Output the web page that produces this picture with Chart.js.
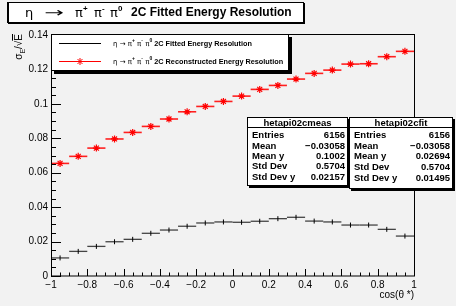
<!DOCTYPE html>
<html>
<head>
<meta charset="utf-8">
<script src="https://cdn.jsdelivr.net/npm/chart.js@4/dist/chart.umd.min.js"></script>
<style>
  body { margin: 0; background: #f2f2f2; }
  #wrap { position: relative; width: 456px; height: 306px; overflow: hidden; font-family: "Liberation Sans", Arial, sans-serif; color: #000; }
  #chart { position: absolute; left: 0; top: 0; }
  .pave { position: absolute; background: #fff; border: 1px solid #000; box-sizing: border-box; }
  #title { left: 7px; top: 2px; width: 297px; height: 21px; border-left-width: 2px; box-shadow: 1px 1px 0 #000; }
  #title span { position: absolute; top: 0; line-height: 19px; white-space: nowrap; }
  #title .g { font-size: 13px; font-family: "DejaVu Sans", sans-serif; }
  #title .sup { font-size: 8px; font-weight: bold; top: -4px; }
  #title .b { font-size: 12px; font-weight: bold; }
  .stats { box-shadow: 2px 2px 0 #000; font-weight: bold; font-size: 9.5px; }
  .stats .hd { position: absolute; left: 0; right: 0; top: 0; height: 9px; border-bottom: 1px solid #000; text-align: center; line-height: 9px; }
  .stats .row { position: absolute; left: 4px; right: 2px; height: 11px; line-height: 11px; white-space: nowrap; }
  .stats .row b { position: absolute; right: 0; top: 0; font-weight: bold; }
  #s1 { left: 247px; top: 117px; width: 101px; height: 69px; }
  #s2 { left: 349px; top: 117px; width: 104px; height: 72px; }
  #ytitle { position: absolute; left: 13px; top: 74px; width: 40px; text-align: right; transform-origin: 0 0; transform: rotate(-90deg); font-size: 10px; line-height: 12px; white-space: nowrap; }
  #ytitle sub { font-size: 7px; }
  #ytitle .ov { text-decoration: overline; }
</style>
</head>
<body>
<div id="wrap">
  <canvas id="chart" width="456" height="306"></canvas>
  <div id="title" class="pave">
    <span class="g" style="left:16px">η</span>
    <span class="g" style="left:35px;transform:scaleX(1.8);transform-origin:0 50%">→</span>
    <span class="g" style="left:66px">π</span><span class="sup" style="left:74px">+</span>
    <span class="g" style="left:85px">π</span><span class="sup" style="left:93px">-</span>
    <span class="g" style="left:101px">π</span><span class="sup" style="left:109px">0</span>
    <span class="b" style="left:122px">2C Fitted Energy Resolution</span>
  </div>
  <div id="ytitle">σ<sub>E</sub>/√<span class="ov">E</span></div>
  <div id="s1" class="pave stats"></div>
  <div id="s2" class="pave stats"></div>
</div>
<script>
// bins in cos(theta*)
const binCenters = [-0.95, -0.85, -0.75, -0.65, -0.55, -0.45, -0.35, -0.25, -0.15, -0.05,
                    0.05, 0.15, 0.25, 0.35, 0.45, 0.55, 0.65, 0.75, 0.85, 0.95];
const binWidth = 0.1;

// reconstructed (red) and 2C fitted (black) resolution
const measRes = [0.0654, 0.0695, 0.0743, 0.0796, 0.0834, 0.0869, 0.0912, 0.0954, 0.0985, 0.1014,
                 0.1045, 0.1084, 0.1107, 0.1144, 0.1177, 0.1196, 0.1231, 0.1233, 0.1274, 0.1305];
const fitRes = [0.0105, 0.0143, 0.0172, 0.0199, 0.0213, 0.0248, 0.0267, 0.0289, 0.0308, 0.0314,
                0.0312, 0.0318, 0.0333, 0.0341, 0.0319, 0.0314, 0.0296, 0.0296, 0.0271, 0.0232];

const xTicks = [-1, -0.8, -0.6, -0.4, -0.2, 0, 0.2, 0.4, 0.6, 0.8, 1];
const yTicks = [0, 0.02, 0.04, 0.06, 0.08, 0.1, 0.12, 0.14];

const legendLabels = ['2C Fitted Energy Resolution', '2C Reconstructed Energy Resolution'];

// stats boxes
const statNames = ['Entries', 'Mean', 'Mean y', 'Std Dev', 'Std Dev y'];
const statsMeas = ['6156', '\u22120.03058', '0.1002', '0.5704', '0.02157'];
const statsFit = ['6156', '\u22120.03058', '0.02694', '0.5704', '0.01495'];

function fillStats(id, name, vals, rowTops) {
    const el = document.getElementById(id);
    let html = '<div class="hd">' + name + '</div>';
    statNames.forEach(function(n, i) {
        html += '<div class="row" style="top:' + rowTops[i] + 'px">' + n + '<b>' + vals[i] + '</b></div>';
    });
    el.innerHTML = html;
}
fillStats('s1', 'hetapi02cmeas', statsMeas, [11, 22, 32, 42, 53]);
fillStats('s2', 'hetapi02cfit', statsFit, [11, 22, 32, 43, 54]);

const fmt = v => String(Math.round(v * 100) / 100).replace('-', '\u2212');

const rootStyle = {
    id: 'rootStyle',
    beforeDraw(chart) {
        const ctx = chart.ctx;
        ctx.save();
        ctx.fillStyle = '#f2f2f2';
        ctx.fillRect(0, 0, chart.width, chart.height);
        ctx.restore();
    },
    beforeDatasetsDraw(chart) {
        // horizontal bin-width bars
        const ctx = chart.ctx;
        const xs = chart.scales.x, ys = chart.scales.y;
        ctx.save();
        chart.data.datasets.forEach(function(ds) {
            ctx.strokeStyle = ds.barColor;
            ctx.lineWidth = ds.barWidth;
            ds.data.forEach(function(p) {
                const y = ys.getPixelForValue(p.y);
                ctx.beginPath();
                ctx.moveTo(xs.getPixelForValue(p.x - binWidth / 2), y);
                ctx.lineTo(xs.getPixelForValue(p.x + binWidth / 2), y);
                ctx.stroke();
            });
        });
        ctx.restore();
    },
    afterDraw(chart) {
        const ctx = chart.ctx;
        const a = chart.chartArea;
        const xs = chart.scales.x, ys = chart.scales.y;
        ctx.save();
        ctx.strokeStyle = '#000';
        ctx.lineWidth = 1;
        ctx.strokeRect(Math.round(a.left) + 0.5, Math.round(a.top) - 0.5, Math.round(a.right - a.left), Math.round(a.bottom - a.top) + 0.5);

        // tick marks, pointing into the frame
        ctx.beginPath();
        for (let i = 0; i <= 40; i++) {
            const x = Math.round(xs.getPixelForValue(-1 + i * 0.05)) + 0.5;
            const len = i % 4 === 0 ? 7 : 3.5;
            ctx.moveTo(x, a.bottom);
            ctx.lineTo(x, a.bottom - len);
        }
        for (let i = 0; i <= 28; i++) {
            const y = Math.round(ys.getPixelForValue(i * 0.005)) + 0.5;
            const len = i % 4 === 0 ? 10 : 5;
            ctx.moveTo(a.left, y);
            ctx.lineTo(a.left + len, y);
        }
        ctx.stroke();

        // legend
        const lx = 51, ly = 34, lw = 238, lh = 37;
        ctx.fillStyle = '#000';
        ctx.fillRect(lx + 3, ly + 3, lw, lh);
        ctx.fillStyle = '#fff';
        ctx.fillRect(lx, ly, lw, lh);
        ctx.strokeRect(lx + 0.5, ly + 0.5, lw - 1, lh - 1);
        const rowsY = [43, 61];
        chart.data.datasets.forEach(function(ds, i) {
            const y = rowsY[i];
            ctx.strokeStyle = ds.borderColor;
            ctx.lineWidth = 1;
            ctx.beginPath();
            ctx.moveTo(59, y + 0.5);
            ctx.lineTo(101, y + 0.5);
            ctx.stroke();
            if (ds.legendMarker) {
                Chart.helpers.drawPoint(ctx, {pointStyle: 'star', radius: 3.5, borderWidth: 1.2}, 80, y + 0.5);
            }
            drawRich(ctx, 113, y + 1, legendLabels[i]);
        });
        ctx.restore();
    }
};

function drawRich(ctx, x, y, label) {
    const parts = [
        {t: 'η → π', f: '7px "DejaVu Sans"', dy: 0},
        {t: '+', f: 'bold 5px "Liberation Sans"', dy: -3},
        {t: ' π', f: '7px "DejaVu Sans"', dy: 0},
        {t: '-', f: 'bold 5px "Liberation Sans"', dy: -3},
        {t: ' π', f: '7px "DejaVu Sans"', dy: 0},
        {t: '0', f: 'bold 5px "Liberation Sans"', dy: -3},
        {t: ' ' + label, f: 'bold 7.3px "Liberation Sans"', dy: 0}
    ];
    ctx.fillStyle = '#000';
    ctx.textBaseline = 'middle';
    ctx.textAlign = 'left';
    parts.forEach(function(p) {
        ctx.font = p.f;
        ctx.fillText(p.t, x, y + p.dy);
        x += ctx.measureText(p.t).width;
    });
}

const chart = new Chart(document.getElementById('chart'), {
    type: 'scatter',
    data: {
        datasets: [{
            label: legendLabels[0],
            data: binCenters.map((x, i) => ({x: x, y: fitRes[i]})),
            borderColor: '#000',
            backgroundColor: '#000',
            barColor: '#444',
            barWidth: 1.3,
            pointStyle: 'line',
            rotation: 90,
            pointRadius: 2.5,
            borderWidth: 1
        }, {
            label: legendLabels[1],
            data: binCenters.map((x, i) => ({x: x, y: measRes[i]})),
            borderColor: '#ff0000',
            backgroundColor: '#ff0000',
            barColor: '#ff2020',
            barWidth: 1.6,
            legendMarker: true,
            pointStyle: 'star',
            pointRadius: 3.5,
            borderWidth: 1.2
        }]
    },
    options: {
        responsive: false,
        animation: false,
        devicePixelRatio: 1,
        layout: {padding: {left: 0, top: 35, right: 42, bottom: 0}},
        plugins: {legend: {display: false}, tooltip: {enabled: false}},
        scales: {
            x: {
                type: 'linear', min: -1, max: 1,
                afterBuildTicks: s => { s.ticks = xTicks.map(v => ({value: v})); },
                afterFit: s => { s.height = 30; },
                grid: {display: false, drawTicks: false},
                border: {display: false},
                ticks: {color: '#000', font: {family: 'Liberation Sans', size: 10}, padding: 3,
                        maxRotation: 0, autoSkip: false, callback: fmt},
                title: {display: true, text: 'cos(θ *)', align: 'end', color: '#000',
                        font: {family: 'Liberation Sans', size: 10}, padding: {top: 0, bottom: 5}}
            },
            y: {
                min: 0, max: 0.14,
                afterBuildTicks: s => { s.ticks = yTicks.map(v => ({value: v})); },
                afterFit: s => { s.width = 51; },
                grid: {display: false, drawTicks: false},
                border: {display: false},
                ticks: {color: '#000', font: {family: 'Liberation Sans', size: 10}, padding: 3, callback: fmt}
            }
        }
    },
    plugins: [rootStyle]
});
</script>
</body>
</html>
